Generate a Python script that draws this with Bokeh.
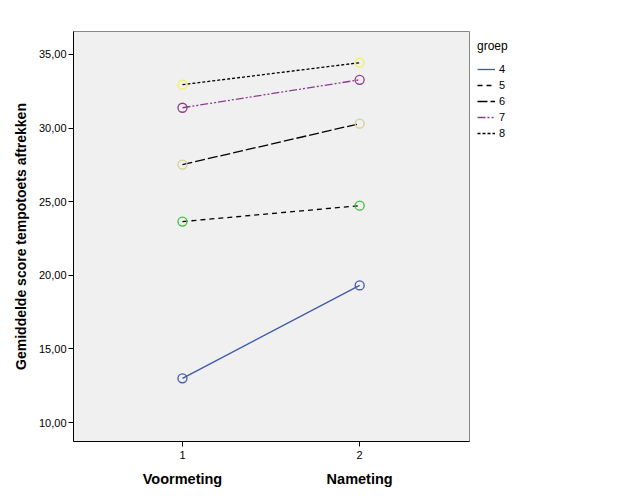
from bokeh.plotting import figure
from bokeh.models import ColumnDataSource, Range1d, LinearAxis, FixedTicker, Legend, LegendItem
from bokeh.embed import file_html
from bokeh.resources import INLINE

timepoints = ["Voormeting", "Nameting"]
x_vals = [1, 2]
groups = ["4", "5", "6", "7", "8"]
g4 = [13.00, 19.31]
g5 = [23.65, 24.73]
g6 = [27.52, 30.30]
g7 = [31.38, 33.28]
g8 = [32.95, 34.44]
series = [g4, g5, g6, g7, g8]

line_colors = ["#3E58AC", "#000000", "#000000", "#8E3C8E", "#000000"]
marker_colors = ["#3E58AC", "#3CC13C", "#D4D090", "#8E3C8E", "#F2F24A"]
dashes = ["solid", "5 4", "10 3", "8 2 2 2 2 2", "3 2"]

p = figure(frame_width=396, frame_height=410, output_backend="svg", toolbar_location=None,
           x_range=Range1d(0.385, 2.62), y_range=Range1d(8.71, 36.56),
           min_border_left=73, min_border_right=0, min_border_top=31, min_border_bottom=55,
           background_fill_color="#F0F0F0", border_fill_color="white",
           outline_line_color="#888888")
p.grid.visible = False

items = []
for g, ys, lc, mc, d in zip(groups, series, line_colors, marker_colors, dashes):
    src = ColumnDataSource(dict(x=x_vals, y=ys))
    r = p.line("x", "y", source=src, line_color=lc, line_dash=d, line_width=1.3)
    p.scatter("x", "y", source=src, marker="circle", size=9, fill_color=None,
              line_color=mc, line_width=1.3)
    items.append(LegendItem(label=g, renderers=[r]))

# y axis
ya = p.yaxis[0]
ya.ticker = FixedTicker(ticks=[10, 15, 20, 25, 30, 35])
ya.major_label_overrides = {t: f"{t},00" for t in [10, 15, 20, 25, 30, 35]}
ya.axis_label = "Gemiddelde score tempotoets aftrekken"
ya.axis_label_text_font = "Liberation Sans"
ya.axis_label_text_font_style = "bold"
ya.axis_label_text_font_size = "14px"
ya.axis_label_text_color = "black"
ya.major_label_text_font = "Liberation Sans"
ya.major_label_text_font_size = "11px"
ya.major_label_text_color = "black"
ya.minor_tick_line_color = None
ya.major_tick_out = 5
ya.major_tick_in = 0
ya.axis_line_color = "black"
ya.major_label_standoff = 2
ya.axis_label_standoff = 7

# x axis (numeric)
xa = p.xaxis[0]
xa.ticker = FixedTicker(ticks=x_vals)
xa.major_label_text_font = "Liberation Sans"
xa.major_label_text_font_size = "11px"
xa.major_label_text_color = "black"
xa.minor_tick_line_color = None
xa.major_tick_out = 5
xa.major_tick_in = 0
xa.axis_line_color = "black"
xa.major_label_standoff = 4

# category label axis
xa2 = LinearAxis(ticker=FixedTicker(ticks=x_vals),
                 major_label_overrides={x: t for x, t in zip(x_vals, timepoints)})
xa2.axis_line_color = None
xa2.major_tick_line_color = None
xa2.minor_tick_line_color = None
xa2.major_label_text_font = "Liberation Sans"
xa2.major_label_text_font_style = "bold"
xa2.major_label_text_font_size = "14.5px"
xa2.major_label_text_color = "black"
xa2.major_label_standoff = 3
p.add_layout(xa2, "below")

legend = Legend(items=items, location="top_left", title="groep",
                title_text_font="Liberation Sans", title_text_font_size="12px",
                title_text_font_style="normal", title_text_color="black",
                label_text_font="Liberation Sans", label_text_font_size="11px",
                label_text_color="black",
                glyph_width=18, glyph_height=16, label_height=16, spacing=0,
                padding=0, margin=8, border_line_color=None, background_fill_alpha=0,
                label_standoff=4, title_standoff=8)
p.add_layout(legend, "right")

open("out.html", "w").write(file_html(p, INLINE))
